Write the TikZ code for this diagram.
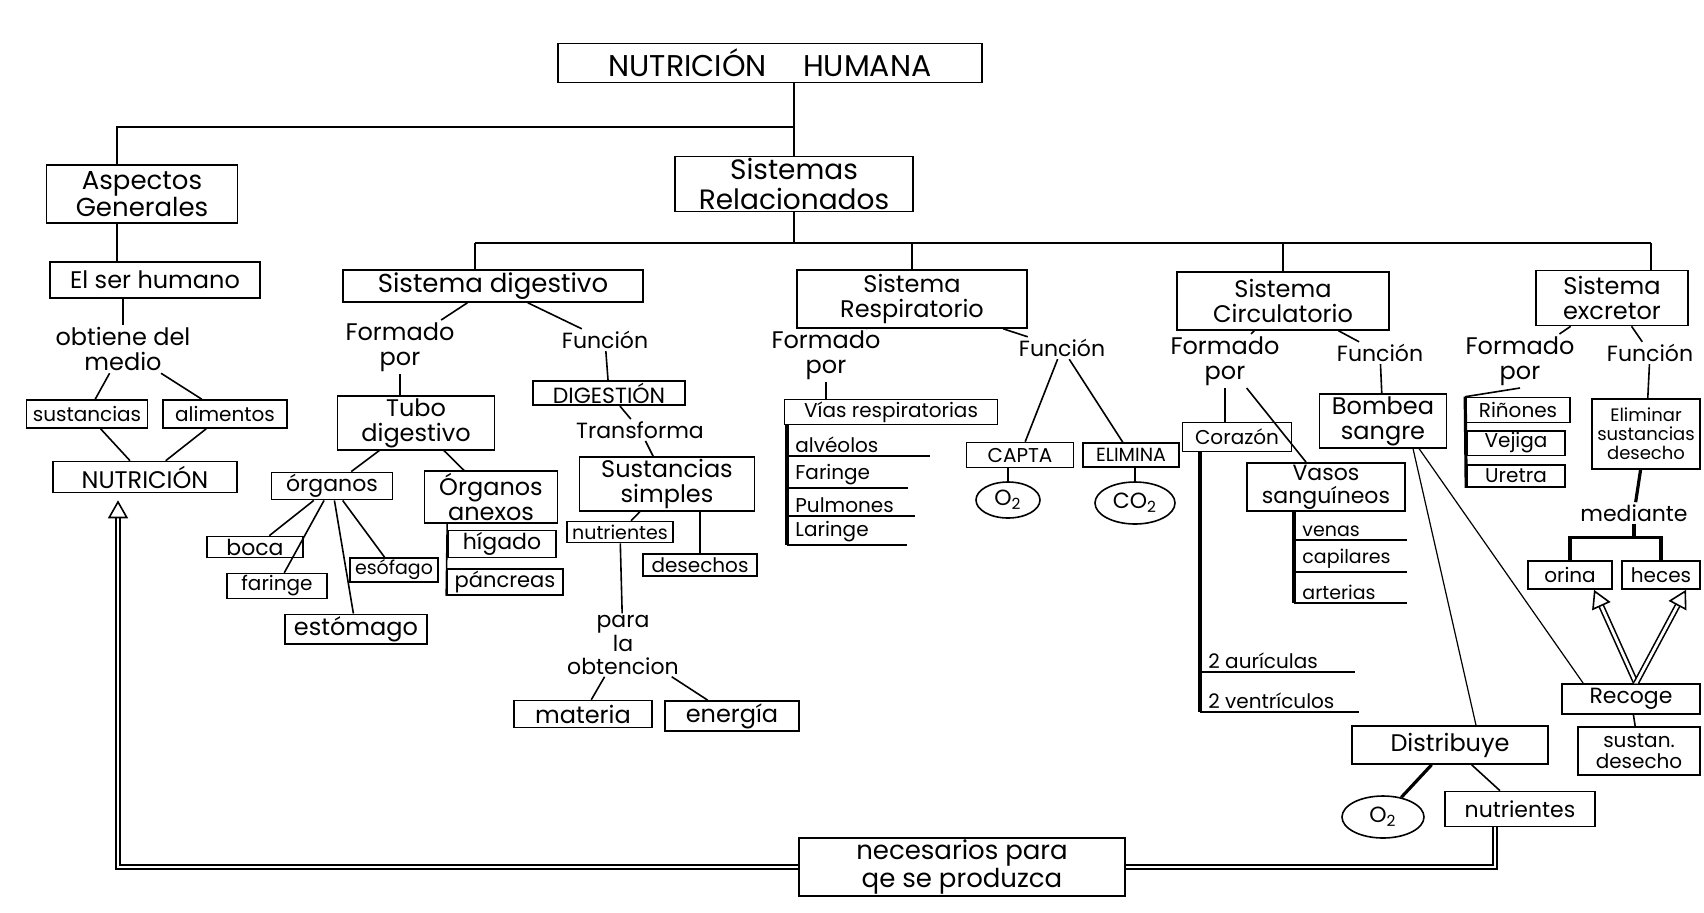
\documentclass[tikz,border=0pt]{standalone}
\usepackage{fontspec}
\setmainfont{Poppins}
\linespread{1.05}
\usetikzlibrary{arrows.meta,calc,shapes.geometric}

\tikzset{
  caja/.style={draw, thick, align=center, inner sep=1pt},
  tam/.style 2 args={minimum width=#1*0.5pt, minimum height=#2*0.5pt},
  letra/.style={font=\fontsize{#1}{#1}\selectfont},
  rotulo/.style={align=center, inner sep=1pt},
  lista/.style={anchor=south west, inner xsep=4pt, inner ysep=1.5pt},
  ovalo/.style={draw, thick, ellipse, inner sep=0pt},
  enlace/.style={thick},
  fino/.style={semithick},
  barra/.style={line width=1.6pt},
  doble/.style={thick, double, double distance=1.4pt},
  flecha/.style={-{Triangle[open, length=9pt, width=10pt]}}
}

\begin{document}
\begin{tikzpicture}[x=0.5pt, y=-0.5pt, letra=11.5]
\fill[white] (0,0) rectangle (1704,912);
\useasboundingbox (0,0) rectangle (1704,912);

% cabecera
\node[caja, tam={424}{39}, letra=15] (titulo) at (770,63) {NUTRICIÓN\hspace{1.2em}HUMANA};
\node[caja, tam={238}{55}, letra=14] (sistemas) at (794,184) {Sistemas\\Relacionados};
\coordinate (ramA) at (117,127);
\coordinate (busL) at (475,243);
\coordinate (busR) at (1651,243);

% aspectos generales
\node[caja, tam={191}{58}, letra=13] (aspectos) at (142,194) {Aspectos\\Generales};
\node[caja, tam={210}{36}, letra=12] (serhumano) at (155,280) {El ser humano};
\node[rotulo, letra=12] (obtiene) at (123,349) {obtiene del\\medio};
\node[caja, tam={121}{28}, letra=10] (sustancias) at (87,414) {sustancias};
\node[caja, tam={124}{28}, letra=10] (alimentos) at (225,414) {alimentos};
\node[caja, tam={184}{31}, letra=12] (nutricion) at (145,477) {NUTRICIÓN};

% sistema digestivo
\node[caja, tam={300}{32}, letra=13] (sdig) at (493,286) {Sistema digestivo};
\node[rotulo, letra=12] (dformado) at (400,347) {Formado\\por};
\node[rotulo, letra=11] (dfuncion) at (605,340) {Función};
\node[caja, tam={157}{40}, letra=12] (tubo) at (416,423) {Tubo\\digestivo};
\node[caja, tam={121}{23}, letra=11] (organos) at (332,486) {órganos};
\node[caja, tam={133}{50}, letra=12] (anexos) at (491,497) {Órganos\\anexos};
\node[caja, tam={96}{21}, letra=11] (boca) at (255,547) {boca};
\node[caja, tam={100}{22}, letra=10] (faringe) at (277,586) {faringe};
\node[caja, tam={142}{28}, letra=12] (estomago) at (356,629) {estómago};
\node[caja, tam={88}{24}, letra=9.5] (esofago) at (394,570) {esófago};
\node[caja, tam={108}{24}, letra=11] (higado) at (502,544) {hígado};
\node[caja, tam={116}{23}, letra=10.5] (pancreas) at (505,582) {páncreas};
\node[caja, tam={152}{23}, letra=11] (digestion) at (609,393) {DIGESTIÓN};
\node[rotulo, letra=11] (transforma) at (640,430) {Transforma};
\node[caja, tam={175}{45}, letra=12] (simples) at (667,484) {Sustancias\\simples};
\node[caja, tam={106}{21}, letra=9.5] (nutrientes) at (620,532) {nutrientes};
\node[caja, tam={114}{22}, letra=10] (desechos) at (700,565) {desechos};
\node[rotulo, letra=11] (para) at (623,645) {para\\la\\obtencion};
\node[caja, tam={138}{27}, letra=12] (materia) at (583,714) {materia};
\node[caja, tam={134}{30}, letra=12] (energia) at (732,716) {energía};

% sistema respiratorio
\node[caja, tam={230}{58}, letra=12] (sresp) at (912,299) {Sistema\\Respiratorio};
\node[rotulo, letra=12] (rformado) at (826,355) {Formado\\por};
\node[rotulo, letra=11] (rfuncion) at (1062,348) {Función};
\node[caja, tam={213}{24}, letra=10] (vias) at (891,412) {Vías respiratorias};
\foreach \n/\txt/\y/\r in {alv/alvéolos/456/930, far/Faringe/488/908, pul/Pulmones/516/915, lar/Laringe/545/907}{
  \node[lista, letra=10] (\n) at (787,\y) {\txt};
  \draw[enlace] (\n.south west) -- (\r,\y);
}
\node[caja, tam={107}{25}, letra=10] (capta) at (1020,455) {CAPTA};
\node[caja, tam={96}{24}, letra=9.5] (elimina) at (1131,455) {ELIMINA};
\node[ovalo, tam={64}{36}, letra=11] (o2a) at (1008,500) {O\textsubscript{2}};
\node[ovalo, tam={80}{42}, letra=11] (co2) at (1135,503) {CO\textsubscript{2}};

% sistema circulatorio
\node[caja, tam={212}{58}, letra=12] (scirc) at (1283,301) {Sistema\\Circulatorio};
\node[rotulo, letra=12] (cformado) at (1225,361) {Formado\\por};
\node[rotulo, letra=11] (cfuncion) at (1380,353) {Función};
\node[caja, tam={109}{29}, letra=10] (corazon) at (1237,437) {Corazón};
\node[caja, tam={158}{39}, letra=11] (vasos) at (1326,487) {Vasos\\sanguíneos};
\foreach \n/\txt/\y in {vena/venas/540, capi/capilares/572, arte/arterias/603}{
  \node[lista, letra=9.5] (\n) at (1294,\y) {\txt};
  \draw[enlace] (\n.south west) -- (1407,\y);
}
\foreach \n/\txt/\y/\r in {aur/2 aurículas/672/1355, vtr/2 ventrículos/712/1359}{
  \node[lista, letra=10] (\n) at (1200,\y) {\txt};
  \draw[enlace] (\n.south west) -- (\r,\y);
}
\node[caja, tam={127}{50}, letra=12] (bombea) at (1383,421) {Bombea\\sangre};
\node[caja, tam={196}{38}, letra=12] (distribuye) at (1450,745) {Distribuye};
\node[ovalo, tam={82}{42}, letra=11] (o2b) at (1383,817) {O\textsubscript{2}};
\node[caja, tam={150}{35}, letra=11] (nutrientes2) at (1520,809) {nutrientes};

% sistema excretor
\node[caja, tam={152}{55}, letra=12] (sexc) at (1612,298) {Sistema\\excretor};
\node[rotulo, letra=12] (eformado) at (1520,361) {Formado\\por};
\node[rotulo, letra=11] (efuncion) at (1650,353) {Función};
\node[caja, tam={104}{25}, letra=10] (rinones) at (1518,410) {Riñones};
\node[caja, tam={98}{22}, letra=10] (vejiga) at (1516,443) {Vejiga};
\node[caja, tam={98}{22}, letra=10] (uretra) at (1516,476) {Uretra};
\node[caja, tam={108}{70}, letra=9] (eliminar) at (1646,434) {Eliminar\\sustancias\\desecho};
\node[rotulo, letra=11] (mediante) at (1634,513) {mediante};
\node[caja, tam={84}{28}, letra=10] (orina) at (1570,575) {orina};
\node[caja, tam={78}{28}, letra=10] (heces) at (1661,575) {heces};
\node[caja, tam={138}{30}, letra=11] (recoge) at (1631,699) {Recoge};
\node[caja, tam={122}{48}, letra=10] (sustan) at (1639,751) {sustan.\\desecho};

% cierre
\node[caja, tam={326}{53}, letra=13] (nec) at (962,867) {necesarios para\\qe se produzca};

% conexiones de arriba
\draw[enlace] (titulo.south -| sistemas.north) -- (sistemas.north);
\draw[enlace] (ramA -| sistemas.north) -- (ramA) -- (ramA |- aspectos.north);
\draw[enlace] (sistemas.south) -- (sistemas.south |- busL);
\draw[enlace] (busL) -- (busR);
\draw[enlace] (busL) -- (busL |- sdig.north);
\draw[enlace] (sresp.north |- busL) -- (sresp.north);
\draw[enlace] (scirc.north |- busL) -- (scirc.north);
\draw[enlace] (busR) -- (busR |- sexc.north);

% aspectos
\draw[enlace] (ramA |- aspectos.south) -- (ramA |- serhumano.north);
\draw[enlace] (obtiene.north |- serhumano.south) -- (obtiene.north);
\draw[enlace] (obtiene) -- (sustancias);
\draw[enlace] (obtiene) -- (alimentos);
\draw[enlace] (sustancias) -- (nutricion);
\draw[enlace] (alimentos) -- (nutricion);

% digestivo
\draw[enlace] (sdig) -- (dformado);
\draw[enlace] (sdig) -- (dfuncion);
\draw[enlace] (dformado.south) -- (dformado.south |- tubo.north);
\draw[enlace] (tubo) -- (organos);
\draw[enlace] (tubo) -- (anexos);
\draw[enlace] (organos) -- (boca);
\draw[enlace] (organos) -- (faringe);
\draw[enlace] (organos) -- (estomago);
\draw[enlace] (organos) -- (esofago);
\draw[enlace] (higado.west |- anexos.south) -- (pancreas.south west);
\draw[enlace] (dfuncion) -- (digestion);
\draw[enlace] (digestion) -- (transforma);
\draw[enlace] (transforma) -- (simples);
\draw[enlace] (simples) -- (nutrientes);
\draw[enlace] (desechos.north |- simples.south) -- (desechos.north);
\draw[enlace] (nutrientes) -- (para);
\draw[enlace] (para) -- (materia);
\draw[enlace] (para) -- (energia);

% respiratorio
\draw[enlace] (sresp) -- (rformado);
\draw[enlace] (sresp) -- (rfuncion);
\draw[enlace] (rformado.south) -- (rformado.south |- vias.north);
\draw[barra] (vias.south -| lar.south west) -- (lar.south west);
\draw[enlace] (rfuncion) -- (capta);
\draw[enlace] (rfuncion) -- (elimina);
\draw[enlace] (o2a.north |- capta.south) -- (o2a.north);
\draw[enlace] (co2.north |- elimina.south) -- (co2.north);

% circulatorio
\draw[enlace] (scirc) -- (cformado);
\draw[enlace] (scirc) -- (cfuncion);
\draw[enlace] (cformado.south) -- (cformado.south |- corazon.north);
\draw[enlace] (cformado) -- (vasos);
\draw[barra] (vasos.south -| vena.south west) -- (arte.south west);
\draw[barra] (corazon.south -| aur.south west) -- (vtr.south west);
\draw[enlace] (cfuncion) -- (bombea);
\draw[fino] ($(bombea.south)+(30,0)$) -- ($(distribuye.north)+(26,0)$);
\draw[fino] ($(bombea.south)+(36,0)$) -- ($(recoge.north west)+(22,0)$);
\draw[barra] (distribuye) -- (o2b);
\draw[enlace] (distribuye) -- (nutrientes2);

% excretor
\draw[enlace] (sexc) -- (eformado);
\draw[enlace] (sexc) -- (efuncion);
\draw[enlace] (eformado.south) -- (rinones.north west);
\draw[barra] (rinones.north west) -- (uretra.south west);
\draw[enlace] (efuncion) -- (eliminar);
\draw[barra] (eliminar) -- (mediante);
\draw[barra] (mediante.south) -- ++(0,14) coordinate (medB);
\draw[barra] (orina.north) -- (orina.north |- medB) -- (heces.north |- medB) -- (heces.north);
\draw[enlace] (recoge) -- (sustan);
\draw[doble, flecha] ($(recoge.north)+(5,0)$) -- ($(orina.south)+(24,0)$);
\draw[doble, flecha] ($(recoge.north)+(5,0)$) -- ($(heces.south)+(25,0)$);

% vuelta a nutricion
\draw[doble] ($(nutrientes2.south)+(-25,0)$) |- (nec.east);
\draw[doble, flecha] (nec.west) -| ($(nutricion.south)+(-27,7)$);
\end{tikzpicture}
\end{document}
